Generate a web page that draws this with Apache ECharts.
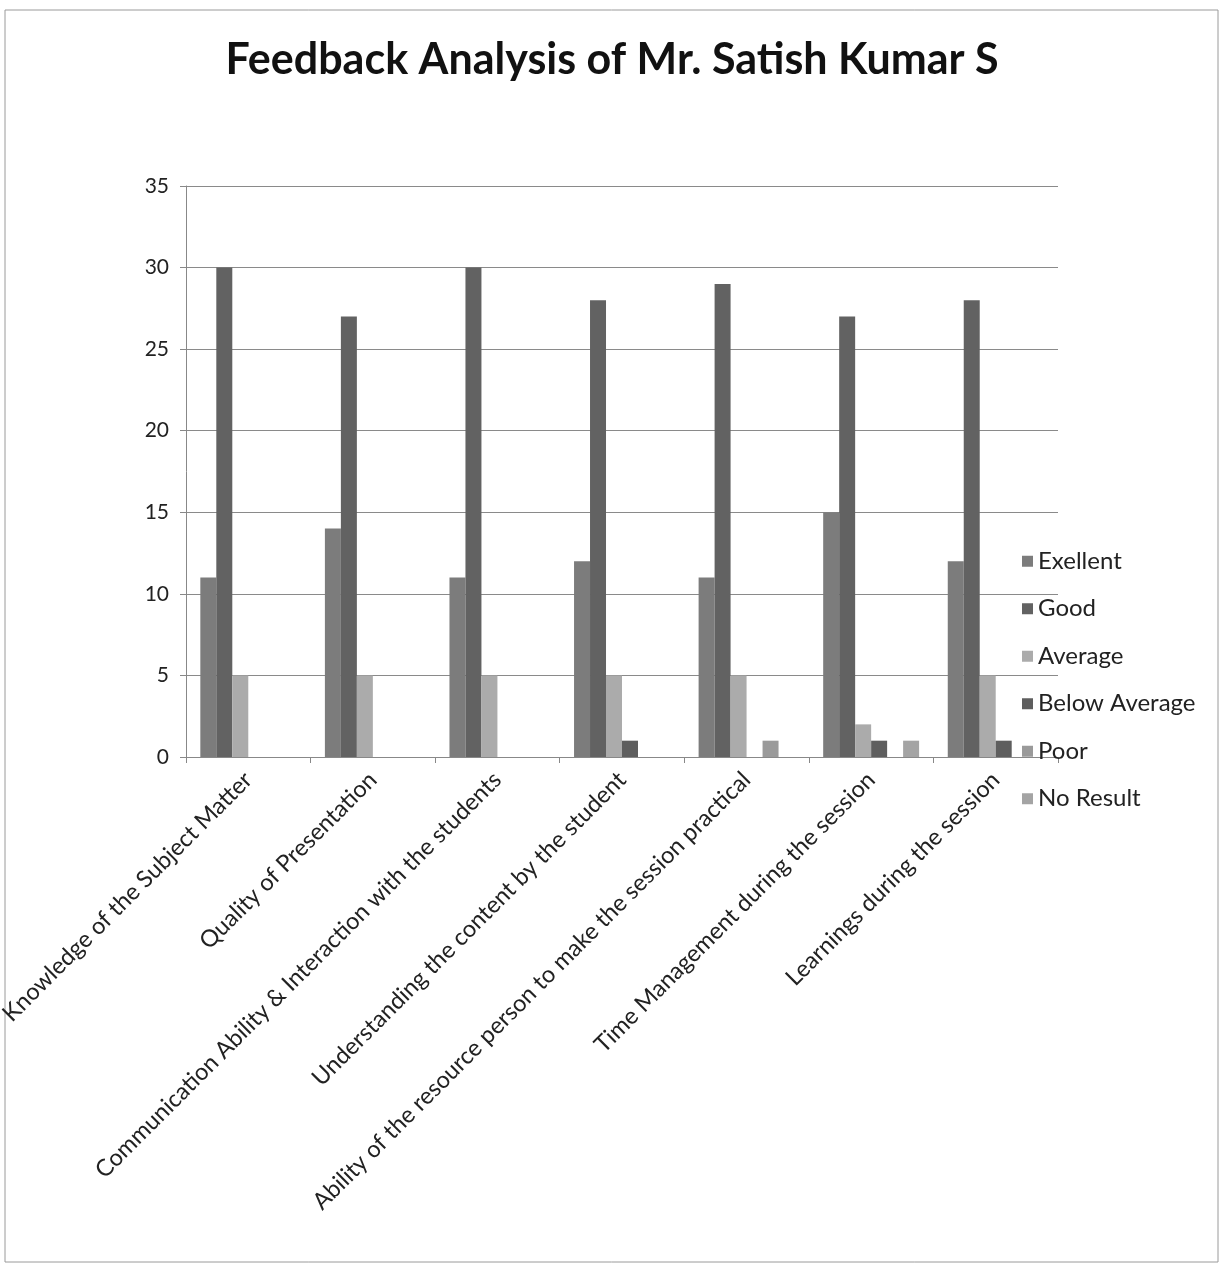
<!DOCTYPE html>
<html><head><meta charset="utf-8">
<script src="https://cdn.jsdelivr.net/npm/echarts@6/dist/echarts.min.js"></script>
<style>html,body{margin:0;padding:0;background:#fff}#c{width:1224px;height:1269px}</style>
</head><body><div id="c"></div>
<script>
const categories = ["Knowledge of the Subject Matter","Quality of Presentation","Communication Ability & Interaction with the students","Understanding the content by the student","Ability of the resource person to make the session practical","Time Management during the session","Learnings during the session"];
const seriesNames = ["Exellent","Good","Average","Below Average","Poor","No Result"];
const exellent = [11,14,11,12,11,15,12];
const good = [30,27,30,28,29,27,28];
const average = [5,5,5,5,5,2,5];
const belowAverage = [0,0,0,1,0,1,1];
const poor = [0,0,0,0,1,0,0];
const noResult = [0,0,0,0,0,1,0];
const yTicks = [0,5,10,15,20,25,30,35];
const colors = ["#7c7c7c","#626262","#ababab","#5e5e5e","#9a9a9a","#a4a4a4"];
const data = [exellent,good,average,belowAverage,poor,noResult];
const font = "Lato, 'Open Sans', sans-serif";
const chart = echarts.init(document.getElementById('c'));
chart.setOption({
  animation:false,
  backgroundColor:'#fff',
  title:{text:'Feedback Analysis of Mr. Satish Kumar S',left:'center',top:34,
    textStyle:{fontFamily:font,fontSize:43,fontWeight:'bold',color:'#111'}},
  legend:{orient:'vertical',left:1017,top:544,itemWidth:11,itemHeight:11,itemGap:23,
    icon:'rect',textStyle:{fontFamily:font,fontSize:24,lineHeight:24.5,color:'#222'},data:seriesNames},
  grid:{left:186,right:166,top:186,bottom:512,containLabel:false,outerBoundsMode:'none'},
  xAxis:{type:'category',data:categories,
    axisLine:{lineStyle:{color:'#888',width:1}},
    axisTick:{show:true,alignWithLabel:false,lineStyle:{color:'#888'},length:6},
    axisLabel:{rotate:45,interval:0,fontFamily:font,fontSize:23.5,color:'#222',margin:19}},
  yAxis:{type:'value',min:0,max:35,interval:5,
    axisLine:{show:true,lineStyle:{color:'#888'}},
    axisTick:{show:true,lineStyle:{color:'#888'},length:6},
    splitLine:{lineStyle:{color:'#8a8a8a',width:1}},
    axisLabel:{fontFamily:font,fontSize:21,color:'#222',margin:17,
      formatter:v=>yTicks.includes(v)?String(v):''}},
  graphic:[{type:'rect',shape:{x:5,y:10,width:1213,height:1252},
    style:{fill:'none',stroke:'#9a9a9a',lineWidth:1},silent:true}],
  series: seriesNames.map((n,i)=>({name:n,type:'bar',data:data[i],
    barGap:'0%',barCategoryGap:'23%',itemStyle:{color:colors[i]}}))
});
</script></body></html>
